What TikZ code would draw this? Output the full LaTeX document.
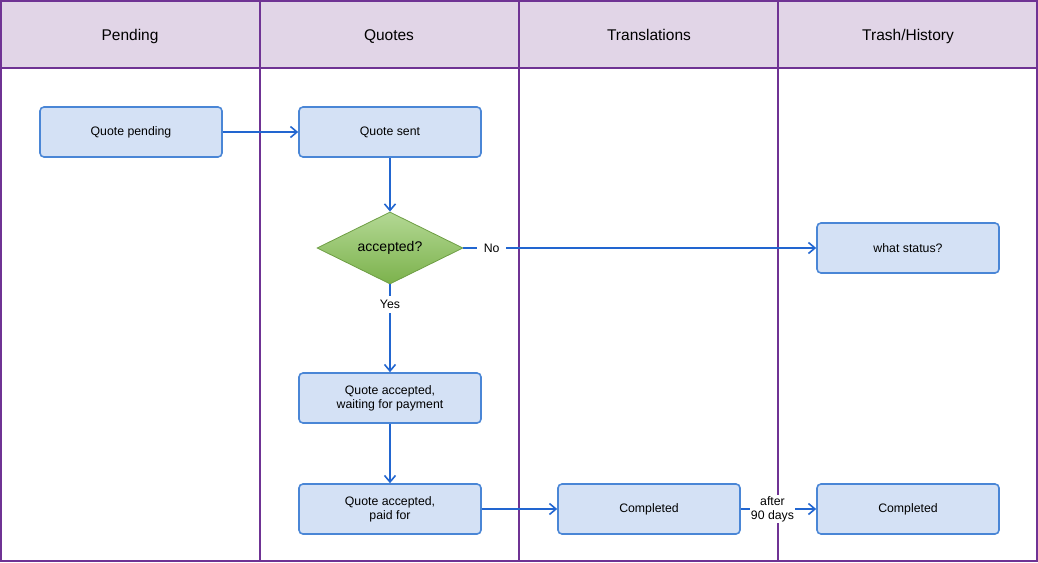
\documentclass[tikz,border=0pt]{standalone}
\usepackage{fontspec}
\setmainfont{Liberation Sans}
\usetikzlibrary{shapes.geometric,arrows.meta}
\definecolor{lanefill}{HTML}{E1D5E7}
\definecolor{laneline}{HTML}{6F3394}
\definecolor{boxfill}{HTML}{D4E1F5}
\definecolor{boxline}{HTML}{4A86D6}
\definecolor{flowline}{HTML}{2266D0}
\definecolor{dectop}{HTML}{B3D894}
\definecolor{decbot}{HTML}{7CB24C}
\definecolor{decline}{HTML}{6E9E44}
\tikzset{
  box/.style={draw=boxline, fill=boxfill, line width=1.6pt, rounded corners=4pt,
    minimum width=182pt, minimum height=50pt, align=center, font=\fontsize{12.3}{14}\selectfont},
  decide/.style={diamond, draw=decline, line width=0.8pt, aspect=2, inner sep=0pt,
    minimum width=146pt, minimum height=72pt, top color=dectop, bottom color=decbot,
    font=\fontsize{14}{16}\selectfont},
  flow/.style={draw=flowline, line width=1.6pt, -{Straight Barb[length=6.5pt,width=11pt,line width=1.6pt]}},
  lbl/.style={fill=white, inner sep=2pt, align=center, font=\fontsize{12.3}{14}\selectfont},
  lanetitle/.style={anchor=base, font=\fontsize{15.5}{18}\selectfont}
}
\begin{document}
\begin{tikzpicture}[x=1pt, y=-1pt]
  \useasboundingbox (0,0) rectangle (1038,562);
  % lanes
  \fill[lanefill] (1,1) rectangle (1037,68);
  \draw[laneline, line width=1.6pt] (1,1) rectangle (1037,561);
  \draw[laneline, line width=1.6pt] (1,68) -- (1037,68);
  \foreach \x in {260,519,778}
    \draw[laneline, line width=1.6pt] (\x,1) -- (\x,561);
  \node[lanetitle] (t1) at (130,40) {Pending};
  \node[lanetitle] (t2) at (389,40) {Quotes};
  \node[lanetitle] (t3) at (649,40) {Translations};
  \node[lanetitle] (t4) at (908,40) {Trash/History};
  % steps
  \node[box] (pend) at (131,132) {Quote pending};
  \node[box] (sent) at (390,132) {Quote sent};
  \node[decide] (acc) at (390,248) {accepted?};
  \node[box] (what) at (908,248) {what status?};
  \node[box] (wait) at (390,398) {Quote accepted,\\waiting for payment};
  \node[box] (paid) at (390,509) {Quote accepted,\\paid for};
  \node[box] (done) at (649,509) {Completed};
  \node[box] (trash) at (908,509) {Completed};
  % arrows
  \draw[flow] (pend) -- (sent);
  \draw[flow] (sent) -- (acc);
  \draw[flow] (acc.east) -- (what.west) node[lbl, pos=0.08, inner xsep=7pt] {No};
  \draw[flow] (acc.south) -- (wait.north) node[lbl, pos=0.23, inner ysep=4pt] {Yes};
  \draw[flow] (wait) -- (paid);
  \draw[flow] (paid) -- (done);
  \draw[flow] (done.east) -- (trash.west) node[lbl, pos=0.42, inner sep=1pt] {after\\90 days};
\end{tikzpicture}
\end{document}
